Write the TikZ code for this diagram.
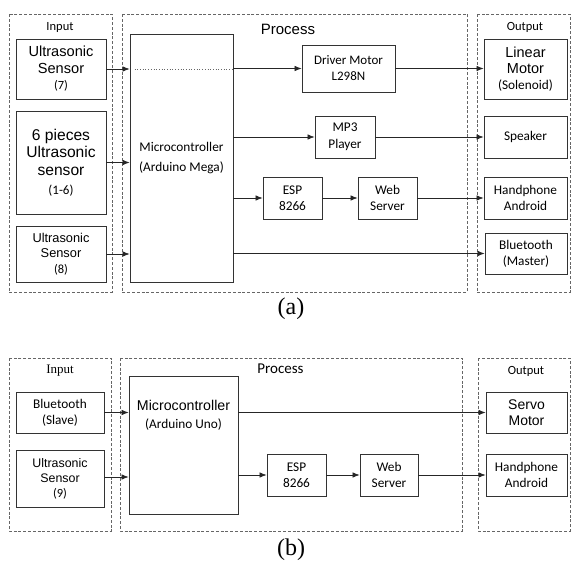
\documentclass[tikz,border=0pt]{standalone}
\usepackage{fontspec}
\setmainfont{Carlito}
\newfontfamily\arialf{Liberation Sans}
\newfontfamily\timesf{Liberation Serif}
\newcommand\fsz[2]{\fontsize{#1}{#2}\selectfont}
\usetikzlibrary{arrows.meta}

\begin{document}
\begin{tikzpicture}[x=1pt,y=-1pt,
    grp/.style={draw=black!60, line width=0.7pt, dash pattern=on 3pt off 1.8pt},
    blk/.style={draw=black!80, line width=0.8pt, align=center, inner sep=0pt, font=\fsz{13.3}{16}},
    sz/.style 2 args={minimum width=#1, minimum height=#2},
    ttl/.style={inner sep=0pt, font=\fsz{12.5}{15}},
    con/.style={-{Latex[length=7pt,width=5.5pt]}, line width=0.7pt, draw=black!85}]
      \useasboundingbox (0,0) rectangle (571,562);
      % (a)
      \draw[grp] (9,14) rectangle (112,292);
      \draw[grp] (122,14) rectangle (467,292);
      \draw[grp] (477,14) rectangle (570,292);
      \node[ttl] (inA) at (60,27) {Input};
      \node[ttl,font=\arialf\fsz{15}{18}] (prA) at (288,29) {Process};
      \node[ttl] (outA) at (525,27) {Output};

      \node[blk,sz={90}{60},font=\arialf\fsz{14.6}{16.5}] (us7) at (61,69)
            {Ultrasonic\\Sensor\\{\rmfamily\fsz{12.5}{16.5}(7)}};
      \node[blk,sz={90}{103},font=\arialf\fsz{15.6}{17.5}] (six) at (61,162.5)
            {6 pieces\\Ultrasonic\\sensor\\[2pt]{\rmfamily\fsz{13}{17.5}(1-6)}};
      \node[blk,sz={90}{56},font=\arialf\fsz{12.8}{15.5}] (us8) at (61,254)
            {Ultrasonic\\Sensor\\{\rmfamily\fsz{12.5}{15.5}(8)}};
      \node[blk,sz={103}{248},font=\fsz{13.3}{20}] (mcA) at (181.5,158)
            {Microcontroller\\(Arduino Mega)};
      \node[blk,sz={93}{47},font=\fsz{13}{16}] (drv) at (348.5,68.5) {Driver Motor\\L298N};
      \node[blk,sz={60}{42},font=\fsz{13.3}{17}] (mp3) at (345,137) {MP3\\Player};
      \node[blk,sz={59}{42}] (espA) at (292.5,198) {ESP\\8266};
      \node[blk,sz={59}{42}] (webA) at (387.5,198) {Web\\Server};
      \node[blk,sz={83}{60},font=\arialf\fsz{14.5}{16}] (lin) at (525.5,69)
            {Linear\\Motor\\{\rmfamily\fsz{13.3}{16}(Solenoid)}};
      \node[blk,sz={83}{42}] (spk) at (525.5,137) {Speaker};
      \node[blk,sz={83}{42}] (hpA) at (525.5,198) {Handphone\\Android};
      \node[blk,sz={82}{41}] (btm) at (526,253.5) {Bluetooth\\(Master)};

      \draw[con] (us7.east) -- (mcA.west |- us7.east);
      \draw[con] (six.east) -- (mcA.west |- six.east);
      \draw[con] (us8.east) -- (mcA.west |- us8.east);
      \draw[dotted, black!60, line width=0.7pt, shorten <=5pt] (mcA.west |- us7.east) -- (mcA.east |- us7.east);
      \draw[con] (mcA.east |- drv.west) -- (drv.west);
      \draw[con] (mcA.east |- mp3.west) -- (mp3.west);
      \draw[con] (mcA.east |- espA.west) -- (espA.west);
      \draw[con] (espA) -- (webA);
      \draw[con] (drv.east) -- (lin.west |- drv.east);
      \draw[con] (mp3.east) -- (spk.west |- mp3.east);
      \draw[con] (webA.east) -- (hpA.west |- webA.east);
      \draw[con] (mcA.east |- btm.west) -- (btm.west);
      \node[font=\timesf\fsz{24}{28}, inner sep=0pt] (capA) at (291,309) {(a)};

      % (b)
      \draw[grp] (9,358) rectangle (111,531);
      \draw[grp] (120,358) rectangle (462,531);
      \draw[grp] (478,358) rectangle (570,531);
      \node[ttl,font=\timesf\fsz{13}{15}] (inB) at (60,371) {Input};
      \node[ttl,font=\fsz{15}{18}] (prB) at (280.5,369) {Process};
      \node[ttl] (outB) at (526,371) {Output};

      \node[blk,sz={88}{41}] (bts) at (60,412.5) {Bluetooth\\(Slave)};
      \node[blk,sz={88}{57},font=\arialf\fsz{12.4}{15}] (us9) at (60,478.5)
            {Ultrasonic\\Sensor\\{\rmfamily\fsz{12.5}{15}(9)}};
      \node[blk,sz={109}{138}] (mcB) at (183.5,445) {};
      \node[inner sep=0pt, align=center, font=\arialf\fsz{14.2}{18}] (mcBt) at (183.5,415)
            {Microcontroller\\{\rmfamily\fsz{13.3}{18}(Arduino Uno)}};
      \node[blk,sz={81}{41},font=\arialf\fsz{14}{16}] (srv) at (526.5,412.5) {Servo\\Motor};
      \node[blk,sz={59}{42}] (espB) at (296.5,475) {ESP\\8266};
      \node[blk,sz={58}{42}] (webB) at (389,475) {Web\\Server};
      \node[blk,sz={81}{42}] (hpB) at (526.5,475) {Handphone\\Android};

      \draw[con] (bts.east) -- (mcB.west |- bts.east);
      \draw[con] (us9.east |- 0,477) -- (mcB.west |- 0,477);
      \draw[con] (mcB.east |- srv.west) -- (srv.west);
      \draw[con] (mcB.east |- espB.west) -- (espB.west);
      \draw[con] (espB) -- (webB);
      \draw[con] (webB.east) -- (hpB.west |- webB.east);
      \node[font=\timesf\fsz{24}{28}, inner sep=0pt] (capB) at (291,550) {(b)};
\end{tikzpicture}
\end{document}
